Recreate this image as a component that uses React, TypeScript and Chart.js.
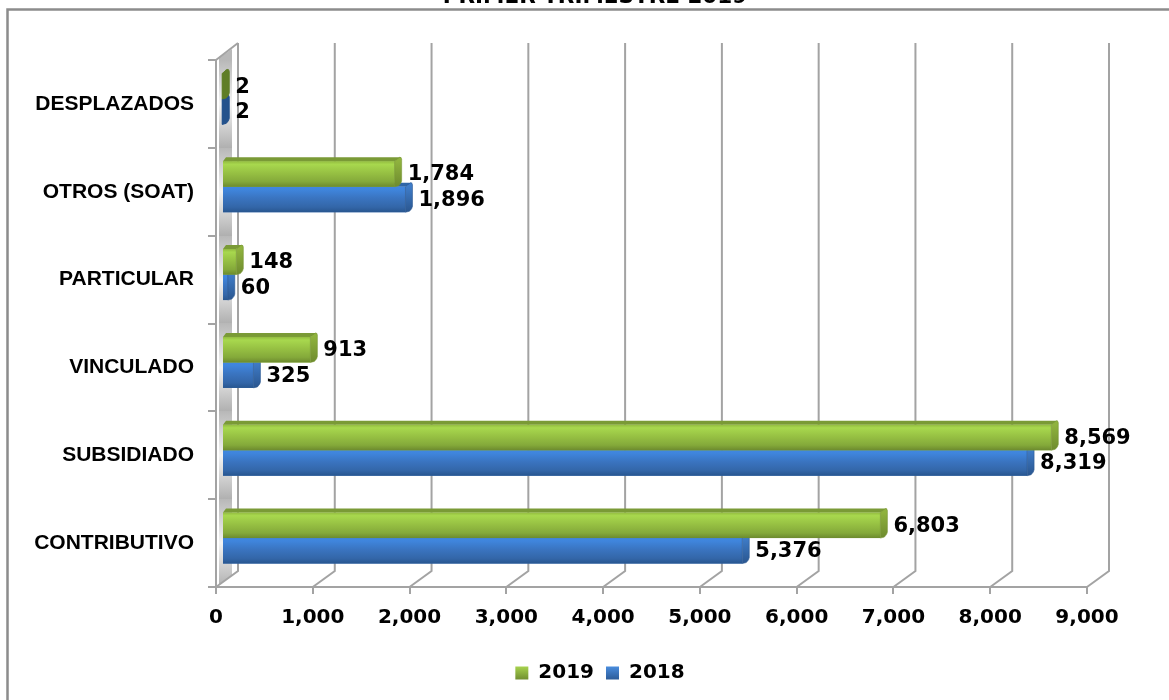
import React, { useEffect, useRef } from "react";
import { Chart, registerables } from "chart.js";

Chart.register(...registerables);

const titleText = "PRIMER TRIMESTRE 2019";
const categories = ["DESPLAZADOS", "OTROS (SOAT)", "PARTICULAR", "VINCULADO", "SUBSIDIADO", "CONTRIBUTIVO"];
const values2019 = [2, 1784, 148, 913, 8569, 6803];
const values2018 = [2, 1896, 60, 325, 8319, 5376];

const NUM_FONT = '"DejaVu Sans"';
const BAR_DX = 6;
const BAR_DY = -5;
const DEPTH_X = 7;
const DEPTH_Y = 4;
const WALL_DX = 22;
const WALL_DY = 16;
const GRID = "#a3a3a3";

const palettes: any = {
  "2019": {
    base: "#8FB73E", top: "#7A9A36", sideA: "#8FB23E", sideB: "#6E8B2E", edge: "#76943290",
    stops: ["#93BC40", "#A8D84E", "#97C143", "#84A93A", "#6C8A2E"], small: "#5F7D26",
    swatchA: "#A9D54F", swatchB: "#6F8C30",
  },
  "2018": {
    base: "#3A72BC", top: "#2F66A8", sideA: "#3F7CC8", sideB: "#2A568F", edge: "#2A568F90",
    stops: ["#4087E0", "#3F85DC", "#3A74C0", "#3366A8", "#28568F"], small: "#24528C",
    swatchA: "#4A8EE0", swatchB: "#2B5A96",
  },
};

const scene = {
  id: "scene",
  afterLayout(chart: any) {
    // keep the long category labels inside the y axis' label clip area
    chart.scales.y.left = 0;
  },
  beforeDraw(chart: any) {
    const { ctx, width, height } = chart;
    ctx.save();
    ctx.fillStyle = "#ffffff";
    ctx.fillRect(0, 0, width, height);
    ctx.strokeStyle = "#8c8c8c";
    ctx.lineWidth = 2.5;
    ctx.beginPath();
    ctx.moveTo(7.5, height);
    ctx.lineTo(7.5, 9.5);
    ctx.lineTo(width, 9.5);
    ctx.stroke();
    ctx.fillStyle = "#000";
    ctx.font = `bold 21.5px ${NUM_FONT}`;
    ctx.textAlign = "center";
    ctx.textBaseline = "alphabetic";
    ctx.fillText(titleText, 595, 3);
    ctx.restore();
  },
  beforeDatasetsDraw(chart: any) {
    const { ctx, scales, chartArea } = chart;
    const { top, bottom, left } = chartArea;
    ctx.save();
    // side wall
    const wall = ctx.createLinearGradient(0, top, 0, bottom);
    categories.forEach((_: string, i: number) => {
      const s = i / categories.length;
      const step = 1 / categories.length;
      wall.addColorStop(s, "#b8b8b8");
      wall.addColorStop(s + step * 0.5, "#f4f4f4");
      wall.addColorStop(s + step * 0.999, "#b0b0b0");
    });
    ctx.fillStyle = wall;
    ctx.beginPath();
    ctx.moveTo(left + 3, bottom - 2);
    ctx.lineTo(left + 16, bottom - 12);
    ctx.lineTo(left + 16, top - 11);
    ctx.lineTo(left + 3, top - 2);
    ctx.closePath();
    ctx.fill();
    // gridlines on the back plane, folding down to the front axis
    ctx.strokeStyle = GRID;
    ctx.lineWidth = 2;
    scales.x.ticks.forEach((t: any) => {
      const px = scales.x.getPixelForValue(t.value);
      ctx.beginPath();
      ctx.moveTo(px, bottom);
      ctx.lineTo(px + WALL_DX, bottom - WALL_DY);
      ctx.lineTo(px + WALL_DX, top - WALL_DY - 1);
      ctx.stroke();
    });
    ctx.beginPath();
    ctx.moveTo(left, top);
    ctx.lineTo(left + WALL_DX, top - WALL_DY - 1);
    ctx.stroke();
    ctx.restore();
  },
  beforeDatasetDraw(chart: any) {
    chart.ctx.save();
    chart.ctx.translate(BAR_DX, BAR_DY);
  },
  afterDatasetDraw(chart: any, args: any) {
    const { ctx } = chart;
    const meta = chart.getDatasetMeta(args.index);
    const pal = palettes[chart.data.datasets[args.index].label];
    meta.data.forEach((bar: any) => {
      const { x, y, height, base } = bar.getProps(["x", "y", "height", "base"], true);
      const y0 = y - height / 2;
      const y1 = y + height / 2;
      const tiny = x - base < 2;
      // top face
      ctx.fillStyle = tiny ? pal.small : pal.top;
      ctx.beginPath();
      ctx.moveTo(base, y0);
      ctx.lineTo(base + 3, y0 - DEPTH_Y);
      ctx.lineTo(x + DEPTH_X, y0 - DEPTH_Y);
      ctx.lineTo(x, y0);
      ctx.closePath();
      ctx.fill();
      // front face
      if (!tiny) {
        const g = ctx.createLinearGradient(0, y0, 0, y1);
        [0, 0.12, 0.45, 0.8, 1].forEach((s, i) => g.addColorStop(s, pal.stops[i]));
        ctx.fillStyle = g;
        ctx.fillRect(base, y0, x - base, height);
      }
      // end cap
      const cap = ctx.createLinearGradient(0, y0, 0, y1);
      cap.addColorStop(0, tiny ? pal.small : pal.sideA);
      cap.addColorStop(1, tiny ? pal.small : pal.sideB);
      ctx.fillStyle = cap;
      ctx.strokeStyle = tiny ? pal.small : pal.edge;
      ctx.lineWidth = 1;
      ctx.lineJoin = "round";
      ctx.beginPath();
      ctx.moveTo(x, y0);
      ctx.lineTo(x + DEPTH_X - 2, y0 - DEPTH_Y);
      ctx.quadraticCurveTo(x + DEPTH_X, y0 - DEPTH_Y, x + DEPTH_X, y0 - DEPTH_Y + 2);
      ctx.lineTo(x + DEPTH_X, y1 - DEPTH_Y - 2);
      ctx.quadraticCurveTo(x + DEPTH_X, y1 - DEPTH_Y, x + DEPTH_X - 3, y1 - 1);
      ctx.lineTo(x, y1);
      ctx.closePath();
      ctx.fill();
      ctx.stroke();
    });
    ctx.restore();
  },
  afterDatasetsDraw(chart: any) {
    const { ctx } = chart;
    ctx.save();
    ctx.fillStyle = "#000";
    ctx.font = `bold 21px ${NUM_FONT}`;
    ctx.textAlign = "left";
    ctx.textBaseline = "middle";
    chart.data.datasets.forEach((ds: any, di: number) => {
      chart.getDatasetMeta(di).data.forEach((bar: any, i: number) => {
        const { x, y } = bar.getProps(["x", "y"], true);
        ctx.fillText(
          Number(ds.data[i]).toLocaleString("en-US"),
          x + BAR_DX + DEPTH_X + 6,
          y + BAR_DY + 1
        );
      });
    });
    ctx.restore();
  },
};

export default function App() {
  const ref = useRef<HTMLCanvasElement>(null);
  useEffect(() => {
    const chart = new Chart(ref.current as HTMLCanvasElement, {
      type: "bar",
      data: {
        labels: categories,
        datasets: [
          { label: "2019", data: values2019, backgroundColor: palettes["2019"].base, borderWidth: 0, clip: false },
          { label: "2018", data: values2018, backgroundColor: palettes["2018"].base, borderWidth: 0, clip: false },
        ],
      } as any,
      options: {
        indexAxis: "y",
        animation: false,
        responsive: false,
        devicePixelRatio: 1,
        layout: { padding: { left: 113, right: 82, top: 60, bottom: 7 } },
        datasets: { bar: { categoryPercentage: 0.58, barPercentage: 1 } },
        scales: {
          x: {
            min: 0,
            max: 9000,
            afterFit(scale: any) { scale.height = 64; },
            ticks: {
              stepSize: 1000,
              color: "#000",
              padding: 12,
              maxRotation: 0,
              font: { family: NUM_FONT, size: 20, weight: "bold" },
              callback: (v: any) => Number(v).toLocaleString("en-US"),
            },
            grid: { drawOnChartArea: false, color: GRID, lineWidth: 2, tickLength: 7 },
            border: { color: GRID, width: 2 },
          },
          y: {
            afterFit(scale: any) { scale.width = 103; },
            ticks: {
              color: "#000",
              padding: 14,
              font: { family: '"Liberation Sans"', size: 21, weight: "bold" },
            },
            grid: { drawOnChartArea: false, color: GRID, lineWidth: 2, tickLength: 8 },
            border: { color: GRID, width: 2 },
          },
        },
        plugins: {
          legend: {
            position: "bottom",
            labels: {
              boxWidth: 13,
              boxHeight: 13,
              padding: 12,
              color: "#000",
              font: { family: NUM_FONT, size: 20, weight: "bold" },
              generateLabels(chart: any) {
                const items = Chart.defaults.plugins.legend.labels.generateLabels(chart);
                return items.map((it: any) => {
                  const pal = palettes[it.text];
                  const g = chart.ctx.createLinearGradient(0, 666, 0, 680);
                  g.addColorStop(0, pal.swatchA);
                  g.addColorStop(1, pal.swatchB);
                  return { ...it, fillStyle: g, lineWidth: 0 };
                });
              },
            },
          },
          tooltip: { enabled: false },
        },
      } as any,
      plugins: [scene],
    });
    return () => chart.destroy();
  }, []);
  return (
    <div style={{ position: "absolute", left: 0, top: 0, width: 1169, height: 700 }}>
      <canvas ref={ref} width={1169} height={700} style={{ display: "block" }} />
    </div>
  );
}
